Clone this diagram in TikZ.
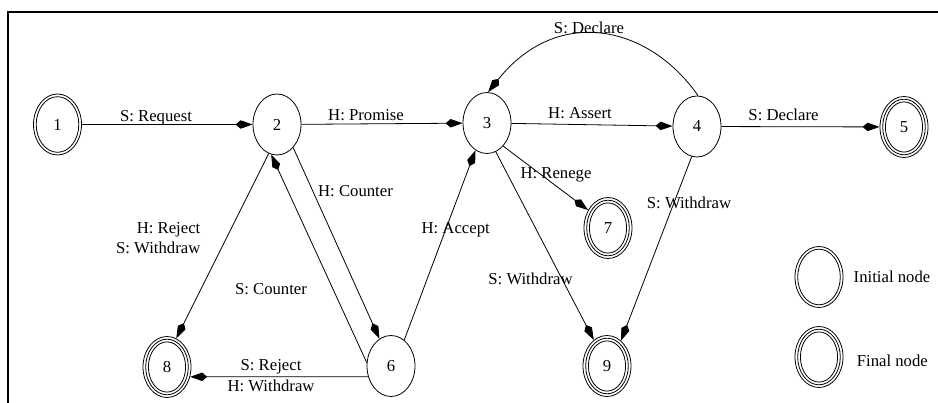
\documentclass[tikz,border=0pt]{standalone}
\usepackage{fontspec}
\setmainfont{Liberation Serif}
\usetikzlibrary{arrows.meta,shapes.geometric}
\begin{document}
\begin{tikzpicture}[x=1pt,y=-1pt,
  every node/.style={font=\fontsize{16.7}{20}\selectfont},
  st/.style={draw,ellipse,minimum width=48pt,minimum height=61pt,inner sep=0pt,line width=0.8pt},
  lbl/.style={inner sep=0pt,anchor=base},
  tr/.style={line width=0.8pt,-{Stealth[length=12pt,width=8pt,inset=-5pt]}},
  ring/.style={line width=0.8pt}]
\useasboundingbox (0,0) rectangle (938,403);
% frame
\draw[line width=2.5pt] (8,403) -- (8,12) -- (938,12);
% states
\node[st] (n1) at (57.5,124.5) {1};
\node[st] (n2) at (277,124.5) {2};
\node[st] (n3) at (487,123) {3};
\node[st] (n4) at (697,126.5) {4};
\node[st] (n5) at (904,127) {5};
\node[st] (n6) at (391,366) {6};
\node[st] (n7) at (608,228) {7};
\node[st] (n8) at (167,367) {8};
\node[st] (n9) at (607,366) {9};
\node[st] (L1) at (819,277) {};
\node[st] (L2) at (819,357) {};
% inner rings
\foreach \n in {n1,L1,n5,n7,n8,n9,L2}
  \draw[ring] (\n.center) ellipse (21.3 and 27.8);
\foreach \n in {n5,n7,n8,n9,L2}
  \draw[ring] (\n.center) ellipse (18.6 and 25.1);
% transitions
\draw[tr] (n1) -- (n2);
\draw[tr] (n2) -- (n3);
\draw[tr] (n3) -- (n4);
\draw[tr] (n4) -- (n5);
\draw[tr] (n4.88) .. controls (648,24) and (557,6) .. (n3.88);
\draw[tr] (n2.305) -- (n6.113);
\draw[tr] (n6.172) -- (n2.259);
\draw[tr] (n2.254) -- (n8.72);
\draw[tr] (n6.205) -- (n8.337);
\draw[tr] (n6.63) -- (n3.247);
\draw[tr] (n3.305) -- (n7.138);
\draw[tr] (n3.287) -- (n9.117);
\draw[tr] (n4.260) -- (n9.61);
% labels
\node[lbl] (l12) at (156,121.5) {S: Request};
\node[lbl] (l23) at (366,121) {H: Promise};
\node[lbl] (l34) at (580,118.3) {H: Assert};
\node[lbl] (l45) at (783.5,120.7) {S: Declare};
\node[lbl] (l43) at (589,33.3) {S: Declare};
\node[lbl] (l26) at (355.5,196.7) {H: Counter};
\node[inner sep=0pt,align=right,anchor=east] (l28) at (200.5,237.8) {H: Reject\\S: Withdraw};
\node[lbl] (l62) at (271,294.3) {S: Counter};
\node[lbl] (l63) at (455.7,233.3) {H: Accept};
\node[lbl] (l37) at (556,179) {H: Renege};
\node[lbl] (l39) at (530.5,285) {S: Withdraw};
\node[lbl] (l49) at (689,208.3) {S: Withdraw};
\node[inner sep=0pt,align=center] (l68) at (271,375.6) {S: Reject\\[1pt]H: Withdraw};
\node[lbl] (t1) at (892,282.3) {Initial node};
\node[lbl] (t2) at (892.3,366.7) {Final node};
\end{tikzpicture}
\end{document}
